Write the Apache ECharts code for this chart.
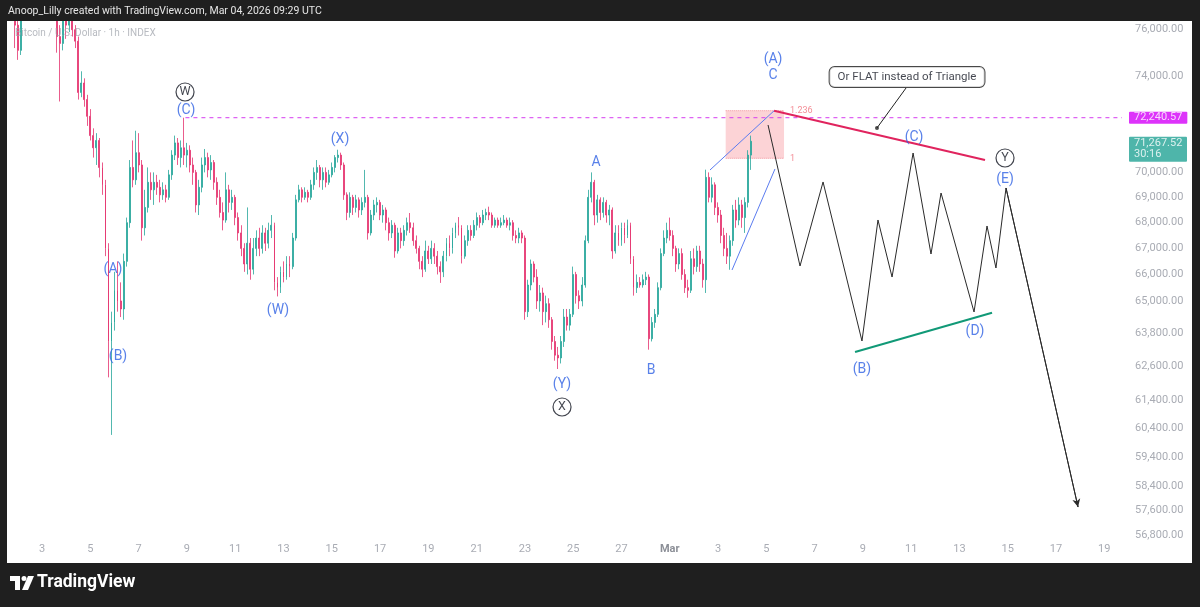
<!DOCTYPE html>
<html><head><meta charset="utf-8">
<script src="https://cdn.jsdelivr.net/npm/echarts@6.0.0/dist/echarts.min.js"></script>
<style>html,body{margin:0;padding:0;background:#1e1e1e;}#c{width:1200px;height:607px;}</style>
</head><body><div id="c"></div><script>
// time unit: hours since 2026-02-01 00:00 UTC ; 3-hour candles
const START_HOUR = 15;
const STEP_HOURS = 3;
const OPEN = [
77300,77000,76800,76200,75100,76600,77100,77600,78000,77700,
77900,77500,77800,77400,77100,77300,76900,75700,75400,76500,
76200,76400,76000,75500,73300,73700,73000,72300,71500,71000,
71300,70200,69500,67000,63500,64200,65400,65000,64700,66500,
68000,70200,69700,70800,70300,67800,68600,69600,69300,69600,
69400,69100,69300,69000,69900,70700,71200,70600,71000,70700,
70900,70300,70000,68700,69400,70300,70600,70100,70400,69600,
69000,68400,68100,69300,68800,69000,68200,67600,67000,66400,
67200,66200,67000,67400,67000,67600,67200,67700,67900,65700,
65500,66100,65900,66400,66300,67400,68900,69300,69000,69200,
69000,69500,70000,70200,69700,70000,69600,69900,70200,70600,
70700,70300,69100,68400,69000,68600,68900,68500,68800,69000,
67600,68300,68700,68800,68300,68500,68000,67600,67900,66900,
67600,67300,67700,68000,67800,67300,67000,66500,66200,66900,
66600,67000,66700,66300,66100,66700,67200,67000,67600,67900,
67800,66700,67300,67700,67500,67900,68200,68000,68300,68400,
68300,67900,68100,67900,68000,68100,67900,68000,67500,67400,
67600,67400,64600,65600,66400,65900,65000,65300,64600,64900,
64300,63500,63000,62900,63500,64400,64100,64500,66000,65200,
65000,65600,67300,69000,69600,68300,68900,68400,68800,68300,
68500,66900,67600,67300,67800,67500,67900,66600,65500,65700,
65600,65800,65900,63600,64200,64500,65500,66800,67400,67700,
67500,67000,66400,66800,66000,65500,65400,66600,66300,66900,
66400,65800,69800,69000,69500,68600,68300,67500,67000,66700,
67300,68500,68100,68700,68200,68800,70700];
const CLOSE = [
77000,76800,76200,75100,76600,77100,77600,78000,77700,77900,
77500,77800,77400,77100,77300,76900,75700,75400,76500,76200,
76400,76000,75500,73300,73700,73000,72300,71500,71000,71300,
70200,69500,67000,63500,64200,65400,65000,64700,66500,68000,
70200,69700,70800,70300,67800,68600,69600,69300,69600,69400,
69100,69300,69000,69900,70700,71200,70600,71000,70700,70900,
70300,70000,68700,69400,70300,70600,70100,70400,69600,69000,
68400,68100,69300,68800,69000,68200,67600,67000,66400,67200,
66200,67000,67400,67000,67600,67200,67700,67900,65700,65500,
66100,65900,66400,66300,67400,68900,69300,69000,69200,69000,
69500,70000,70200,69700,70000,69600,69900,70200,70600,70700,
70300,69100,68400,69000,68600,68900,68500,68800,69000,67600,
68300,68700,68800,68300,68500,68000,67600,67900,66900,67600,
67300,67700,68000,67800,67300,67000,66500,66200,66900,66600,
67000,66700,66300,66100,66700,67200,67000,67600,67900,67800,
66700,67300,67700,67500,67900,68200,68000,68300,68400,68300,
67900,68100,67900,68000,68100,67900,68000,67500,67400,67600,
67400,64600,65600,66400,65900,65000,65300,64600,64900,64300,
63500,63000,62900,63500,64400,64100,64500,66000,65200,65000,
65600,67300,69000,69600,68300,68900,68400,68800,68300,68500,
66900,67600,67300,67800,67500,67900,66600,65500,65700,65600,
65800,65900,63600,64200,64500,65500,66800,67400,67700,67500,
67000,66400,66800,66000,65500,65400,66600,66300,66900,66400,
65800,69800,69000,69500,68600,68300,67500,67000,66700,67300,
68500,68100,68700,68200,68800,70700,71267.52];
const LOW = [
76800,76500,75200,74690,74900,76500,76900,77300,77400,77500,
77200,77300,77100,76800,76900,76600,75000,72920,75100,75600,
75900,75700,75200,73000,73100,72700,71900,71300,70600,70300,
69800,69100,66700,62200,60170,63900,64600,64400,64300,66300,
67800,69400,69500,70000,67300,67500,68400,68900,68700,69100,
68800,68900,68800,68900,69700,70500,70300,70200,70300,70200,
70000,69500,68400,68300,69200,70000,69800,69700,69300,68700,
68200,67700,68000,68400,68500,67900,67300,66700,66100,66000,
65800,66000,66700,66700,66800,66900,67000,67400,65400,65170,
65300,65700,65800,65900,66200,67300,68800,68800,68900,68800,
68900,69300,69700,69400,69300,69400,69500,69800,70000,70400,
70100,68900,68100,68200,68300,68400,68200,68300,68600,67340,
67500,68100,68400,68100,68000,67700,67300,67400,66640,66800,
67000,67100,67500,67600,67100,66800,66200,65900,66100,66400,
66400,66400,66000,65680,65900,66500,66700,66800,67400,67500,
66420,66600,67100,67300,67400,67700,67800,67900,68100,68100,
67800,67800,67800,67800,67900,67800,67700,67300,67200,67200,
67200,64300,64400,65400,65700,64700,64600,64100,64200,64000,
63200,62800,62500,62700,63300,63900,63900,64400,64900,64700,
64800,65500,67200,68800,67900,68000,68100,68200,68000,67900,
66600,66800,67100,67100,67200,67400,66400,65200,65300,65500,
65500,65600,63200,63500,64000,64400,65400,66700,67200,67300,
66700,66100,66200,65800,65300,65120,65300,66000,66100,66100,
65500,65300,68800,68800,68300,68000,67200,66700,66400,66180,
67100,67800,67900,67800,67600,68600,70100];
const HIGH = [
77600,77200,77000,76400,76800,77400,77900,78300,78200,78300,
78100,78000,78000,77600,77500,77400,77100,76200,76800,77000,
76800,76600,76200,75700,74200,73900,73200,72600,71800,71600,
71400,70400,69700,67200,64600,66100,66500,65700,66800,68200,
70500,71300,71700,71600,70500,69300,70200,70000,70000,69900,
69700,69600,69500,70100,70900,71500,71400,71300,72240,71200,
71100,70600,70100,69700,70600,70950,70800,70700,70500,69800,
69300,68800,70000,69500,69300,69100,68400,67900,67200,68600,
67400,67400,67700,67800,67900,67800,68000,68300,68000,65900,
66300,66500,66700,66700,67600,69100,69500,69400,69400,69300,
69700,70200,70500,70300,70200,70200,70100,70400,70700,70920,
70800,70400,69200,69200,69100,69100,69000,69000,70100,69100,
68500,68900,69000,68900,68700,68600,68200,68100,68000,67800,
67800,67900,68200,68380,68000,67500,67100,66700,67300,67100,
67300,67200,66900,66500,66900,67400,67500,67800,68000,68220,
67900,67500,67900,67900,68100,68400,68300,68500,68550,68630,
68400,68200,68200,68200,68300,68200,68200,68100,67700,67800,
67700,67500,65800,66570,66500,66200,65600,65500,65200,65100,
64400,63700,63300,63700,64700,64700,64700,66300,66100,65400,
65900,67500,69300,70000,69700,69100,69000,69000,68900,68700,
68600,67900,67900,68000,68000,68120,68000,66700,66000,65900,
66000,66100,66000,64400,64700,65700,67000,67700,68000,68200,
67700,67100,67000,67000,66200,65800,66900,67000,67100,67100,
66600,70110,70000,69800,69600,68800,68500,67800,67600,67500,
68700,68900,69000,68900,69000,70900,71500];

const X_MIN = 14.1, X_MAX = 1121.6;
const Y_MIN = 56634, Y_MAX = 76338;
const X_TICKS = [48,96,144,192,240,288,336,384,432,480,528,576,624,672,720,768,816,864,912,960,1008,1056,1104];
const Y_TICKS = [76000,74000,70000,69000,68000,67000,66000,65000,63800,62600,61400,60400,59400,58400,57600,56800];

const RES_LEVEL = 72240.57, RES_FROM = 190.5;
const LAST_PRICE = 71267.52, COUNTDOWN = '30:16';

// projected path (hours, price)
const PROJ_H = [769.7, 801.5, 824.4, 863.1, 879.0, 893.0, 913.9, 931.7, 941.7, 974.5, 987.4, 996.3, 1006.3, 1077.9];
const PROJ_P = [71938, 66323, 69614, 63517, 68105, 65903, 70786, 66783, 69173, 64588, 67870, 66247, 69373, 57720];
const WEDGE_UP_H = [712.0, 775.7], WEDGE_UP_P = [70096, 72530];
const WEDGE_LO_H = [733.9, 776.6], WEDGE_LO_P = [66170, 70137];
const TRI_UP_H = [775.7, 985.4], TRI_UP_P = [72530, 70501];
const TRI_LO_H = [856.2, 992.4], TRI_LO_P = [63116, 64561];
const FIB_H = [727.6, 785.6], FIB_TOP = 72535, FIB_BOT = 70571, FIB_LBL_H = 791.6;
const NOTE_TEXT = 'Or FLAT instead of Triangle';
const NOTE_AT = [907.9, 73956];
const NOTE_LINE_H = [906.9, 878.0], NOTE_LINE_P = [73489, 71814];

const WAVE_LABELS = [
  ['(C)', 191.1, 72521], ['(A)', 118.5, 66208], ['(B)', 123.5, 62934], ['(W)', 282.5, 64625],
  ['(X)', 344.2, 71319], ['(Y)', 564.9, 61962], ['A', 598.7, 70380], ['B', 653.4, 62429],
  ['(A)', 774.7, 74685], ['C', 774.7, 74041], ['(C)', 914.8, 71442], ['(B)', 863.1, 62500],
  ['(D)', 975.5, 63884], ['(E)', 1005.3, 69694]
];
const CIRCLE_LABELS = [['W', 190.1, 73320], ['X', 564.9, 61146], ['Y', 1005.3, 70583]];

const candles = OPEN.map((o, i) => [START_HOUR + STEP_HOURS * i, o, CLOSE[i], LOW[i], HIGH[i]]);
const zip = (hs, ps) => hs.map((h, i) => [h, ps[i]]);
const BLUE = '#2f62e3';
const FONT = 'Roboto, "Noto Sans", sans-serif';

const chart = echarts.init(document.getElementById('c'));
chart.setOption({
  animation: false,
  backgroundColor: '#ffffff',
  grid: { left: 8, right: 78, top: 22, bottom: 67 },
  xAxis: {
    type: 'value', min: X_MIN, max: X_MAX,
    axisLine: { show: false }, axisTick: { show: false }, splitLine: { show: false },
    axisLabel: {
      customValues: X_TICKS, margin: 4, color: '#a9acb4', fontSize: 11, fontFamily: FONT,
      formatter: v => {
        const d = new Date(Date.UTC(2026, 1, 1) + Math.round(v) * 3600000);
        return d.getUTCDate() === 1 ? '{m|Mar}' : String(d.getUTCDate());
      },
      rich: { m: { color: '#8c8f97', fontWeight: 'bold', fontSize: 11, fontFamily: FONT } }
    }
  },
  yAxis: {
    type: 'log', position: 'right', min: Y_MIN, max: Y_MAX,
    axisLine: { show: false }, axisTick: { show: false }, splitLine: { show: false },
    axisLabel: {
      customValues: Y_TICKS, margin: 13, color: '#a9acb4', fontSize: 11, fontFamily: FONT,
      formatter: v => Number(v).toLocaleString('en-US', { minimumFractionDigits: 2, maximumFractionDigits: 2 })
    }
  },
  series: [
    {
      type: 'candlestick', data: candles, encode: { x: 0, y: [1, 2, 3, 4] }, clip: true,
      barWidth: 1.4, z: 2,
      itemStyle: { color: '#26a69a', color0: '#e5326f', borderColor: '#26a69a', borderColor0: '#e5326f', borderWidth: 0.8 }
    },
    {
      type: 'line', data: [[RES_FROM, RES_LEVEL], [X_MAX, RES_LEVEL]], symbol: 'none', z: 3,
      lineStyle: { color: '#d63cf0', width: 1, type: [4, 4] }
    },
    {
      type: 'line', data: [[FIB_H[0], FIB_TOP], [FIB_H[1], FIB_TOP]], symbol: 'none', z: 1,
      lineStyle: { color: '#f28b95', width: 1, type: 'dotted' },
      markArea: { silent: true, itemStyle: { color: 'rgba(242,54,69,0.22)' },
        data: [[{ coord: [FIB_H[0], FIB_TOP] }, { coord: [FIB_H[1], FIB_BOT] }]] }
    },
    {
      type: 'line', data: [[FIB_H[0], FIB_BOT], [FIB_H[1], FIB_BOT]], symbol: 'none', z: 1,
      lineStyle: { color: '#f28b95', width: 1, type: 'dotted' }
    },
    { type: 'line', data: zip(WEDGE_UP_H, WEDGE_UP_P), symbol: 'none', z: 4, lineStyle: { color: '#5b7cf0', width: 1 } },
    { type: 'line', data: zip(WEDGE_LO_H, WEDGE_LO_P), symbol: 'none', z: 4, lineStyle: { color: '#5b7cf0', width: 1 } },
    { type: 'line', data: zip(TRI_UP_H, TRI_UP_P), symbol: 'none', z: 4, lineStyle: { color: '#e0245e', width: 2 } },
    { type: 'line', data: zip(TRI_LO_H, TRI_LO_P), symbol: 'none', z: 4, lineStyle: { color: '#119977', width: 2 } },
    {
      type: 'line', data: zip(PROJ_H, PROJ_P), symbol: 'none', z: 4, clip: false,
      lineStyle: { color: '#2a2a2a', width: 1 },
      markLine: {
        silent: true, symbol: ['none', 'arrow'], symbolSize: [6, 8],
        lineStyle: { color: '#2a2a2a', width: 1, type: 'solid' }, label: { show: false },
        data: [[{ coord: [PROJ_H[PROJ_H.length - 2], PROJ_P[PROJ_P.length - 2]] },
                { coord: [PROJ_H[PROJ_H.length - 1], PROJ_P[PROJ_P.length - 1]] }]]
      }
    },
    { type: 'line', data: zip(NOTE_LINE_H, NOTE_LINE_P), symbol: 'none', z: 4, lineStyle: { color: '#222', width: 1 } },
    {
      type: 'scatter', data: [[NOTE_LINE_H[1], NOTE_LINE_P[1]]], symbolSize: 4, z: 5,
      itemStyle: { color: '#222' }
    },
    {
      type: 'scatter', data: [[NOTE_AT[0], NOTE_AT[1], NOTE_TEXT]], symbolSize: 0, z: 6, clip: false,
      label: { show: true, position: 'inside', formatter: p => p.value[2], color: '#131722', fontSize: 11.5,
        fontFamily: FONT, backgroundColor: '#ffffff', borderColor: '#1a1a1a', borderWidth: 1, borderRadius: 5,
        padding: [4, 8] }
    },
    {
      type: 'scatter', data: [[FIB_LBL_H, FIB_TOP, '1.236'], [FIB_LBL_H, FIB_BOT, '1']], symbolSize: 0, z: 6,
      label: { show: true, position: 'right', distance: 0, formatter: p => p.value[2], color: '#f0707c', fontSize: 9, fontFamily: FONT }
    },
    {
      type: 'scatter', data: WAVE_LABELS.map(a => [a[1], a[2], a[0]]), symbolSize: 0, z: 6, clip: false,
      label: { show: true, position: 'inside', formatter: p => p.value[2], color: BLUE, fontSize: 14, fontFamily: FONT }
    },
    {
      type: 'scatter', data: CIRCLE_LABELS.map(a => [a[1], a[2], a[0]]), symbol: 'circle', symbolSize: 18, z: 6, clip: false,
      itemStyle: { color: '#ffffff', borderColor: '#131722', borderWidth: 1.2 },
      label: { show: true, position: 'inside', formatter: p => p.value[2], color: '#131722', fontSize: 12.5, fontFamily: FONT }
    },
    {
      type: 'scatter', data: [[X_MAX, RES_LEVEL, RES_LEVEL.toLocaleString('en-US', { minimumFractionDigits: 2 })]],
      symbolSize: 0, z: 7, clip: false,
      label: { show: true, position: 'right', distance: 7, formatter: p => p.value[2], color: '#ffffff',
        backgroundColor: '#d500f9', padding: [1, 5, 0, 5], fontSize: 11, fontFamily: FONT, borderRadius: 1 }
    },
    {
      type: 'scatter', data: [[X_MAX, LAST_PRICE, LAST_PRICE.toLocaleString('en-US', { minimumFractionDigits: 2 }) + '\n' + COUNTDOWN]],
      symbolSize: 0, z: 7, clip: false,
      label: { show: true, position: 'right', distance: 7, offset: [0, 8], formatter: p => p.value[2], color: '#ffffff', align: 'left',
        backgroundColor: '#22a395', padding: [2, 5, 1, 5], fontSize: 11, lineHeight: 11, width: 48, fontFamily: FONT, borderRadius: 1 }
    }
  ],
  graphic: [
    { type: 'rect', z: 100, shape: { x: 0, y: 0, width: 1200, height: 21 }, style: { fill: '#1f1f1f' } },
    { type: 'rect', z: 100, shape: { x: 0, y: 563, width: 1200, height: 44 }, style: { fill: '#1f1f1f' } },
    { type: 'rect', z: 100, shape: { x: 0, y: 0, width: 7, height: 607 }, style: { fill: '#1f1f1f' } },
    { type: 'rect', z: 100, shape: { x: 1192, y: 0, width: 8, height: 607 }, style: { fill: '#1f1f1f' } },
    { type: 'text', z: 101, x: 8, y: 11, style: { text: 'Anoop_Lilly created with TradingView.com, Mar 04, 2026 09:29 UTC',
        fill: '#e6e6e6', fontSize: 10.5, fontFamily: FONT, verticalAlign: 'middle' } },
    { type: 'text', z: 101, x: 15, y: 33, style: { text: 'Bitcoin / U.S. Dollar · 1h · INDEX',
        fill: 'rgba(160,164,172,0.75)', fontSize: 10, fontFamily: FONT, verticalAlign: 'middle' } },
    { type: 'rect', z: 101, shape: { x: 10, y: 576, width: 10, height: 5 }, style: { fill: '#ffffff' } },
    { type: 'rect', z: 101, shape: { x: 15, y: 576, width: 5, height: 14 }, style: { fill: '#ffffff' } },
    { type: 'circle', z: 101, shape: { cx: 24, cy: 578.5, r: 2.5 }, style: { fill: '#ffffff' } },
    { type: 'polygon', z: 101, shape: { points: [[28, 576], [34, 576], [28, 590], [22, 590]] }, style: { fill: '#ffffff' } },
    { type: 'text', z: 101, x: 37, y: 583, style: { text: 'TradingView', fill: '#ffffff', fontSize: 17.5, fontWeight: 'bold',
        fontFamily: FONT, verticalAlign: 'middle' } }
  ]
});
</script></body></html>
